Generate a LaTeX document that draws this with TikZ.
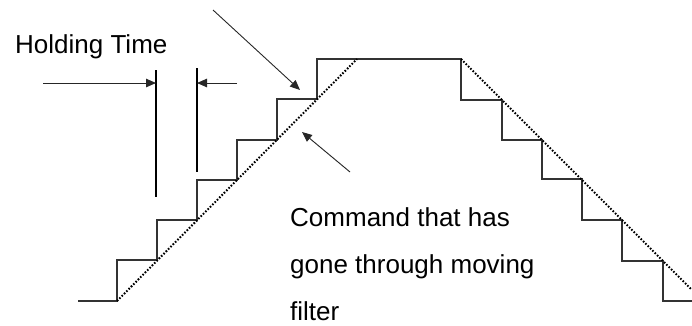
\documentclass[tikz,border=0pt]{standalone}
\usepackage{fontspec}
\setmainfont{Liberation Sans}
\usetikzlibrary{arrows.meta}
\begin{document}
\begin{tikzpicture}[x=1pt,y=-1pt,
  stair/.style={draw=black!80,line width=1.2pt,line join=miter},
  filtered/.style={draw=black,line width=2pt,dash pattern=on 1.6pt off 1.7pt},
  pointer/.style={draw=black!85,line width=0.9pt,-{Triangle[length=10pt,width=8.5pt]}},
  marker/.style={draw=black,line width=1.1pt},
  label/.style={font=\fontsize{26}{30}\selectfont,anchor=base west,inner sep=0pt}]
\useasboundingbox (0,0) rectangle (692,325);
% staircase command
\draw[stair] (78,301) -- (117,301) |- (157,260) |- (197,220) |- (237,180) |- (277,140) |- (317,99) |- (461,59)
  |- (502,100) |- (542,140) |- (582,179) |- (622,220) |- (663,261) |- (692,301);
% filtered command
\coordinate (f1) at (117,301);
\coordinate (f2) at (357,59);
\coordinate (f3) at (461,59);
\coordinate (f4) at (692,290);
\draw[filtered] (f1) -- (f2);
\draw[filtered] (f3) -- (f4);
% holding time markers
\coordinate (h1t) at (156,70);
\coordinate (h1b) at (156,197);
\coordinate (h2t) at (197,68);
\coordinate (h2b) at (197,172);
\draw[marker] (h1t) -- (h1b);
\draw[marker] (h2t) -- (h2b);
\coordinate (a1s) at (43,83);
\coordinate (a1e) at (156,83);
\coordinate (a2s) at (237,83);
\coordinate (a2e) at (197,83);
\draw[pointer] (a1s) -- (a1e);
\draw[pointer] (a2s) -- (a2e);
% diagonal pointers
\coordinate (d1s) at (213,10);
\coordinate (d1e) at (300,90);
\coordinate (d2s) at (350,172);
\coordinate (d2e) at (302,132);
\draw[pointer] (d1s) -- (d1e);
\draw[pointer] (d2s) -- (d2e);
% texts
\node[label] (hold) at (15,53.3) {Holding Time};
\node[label] (cmd1) at (290,226.7) {Command that has};
\node[label] (cmd2) at (290,273.5) {gone through moving};
\node[label] (cmd3) at (290,320) {filter};
\end{tikzpicture}
\end{document}
